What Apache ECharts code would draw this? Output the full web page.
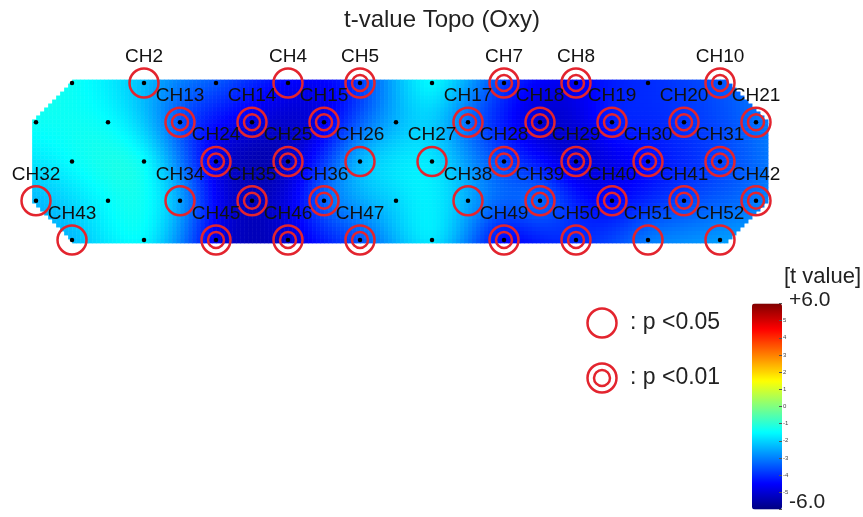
<!DOCTYPE html>
<html><head><meta charset="utf-8">
<script src="https://cdn.jsdelivr.net/npm/echarts@6/dist/echarts.min.js"></script>
<style>html,body{margin:0;padding:0;background:#fff}#c{width:863px;height:517px}</style>
</head><body><div id="c"></div>
<script>
// ---------------- data ----------------
const chartTitle = 't-value Topo (Oxy)';
const row1T = [-1.4, -2.3, -3.5, -4.5, -3.8, -1.6, -3.8, -4.6, -4.0, -3.5];               // CH1-CH10
const row2T = [-1.4, -1.5, -3.5, -4.8, -4.7, -2.4, -3.2, -5.0, -4.2, -3.9, -3.2];         // CH11-CH21
const row3T = [-1.5, -1.5, -4.8, -5.2, -2.4, -1.8, -3.7, -5.0, -4.4, -3.7];               // CH22-CH31
const row4T = [-2.3, -1.5, -2.6, -5.3, -3.4, -2.0, -2.5, -3.3, -4.5, -3.7, -3.1];         // CH32-CH42
const row5T = [-2.3, -1.6, -4.7, -5.0, -3.5, -1.8, -4.4, -4.0, -3.1, -2.7];               // CH43-CH52
const sigP05 = [2, 4, 26, 27, 32, 34, 38, 43, 51, 52];
const sigP01 = [5, 7, 8, 10, 13, 14, 15, 17, 18, 19, 20, 21, 24, 25, 28, 29, 30, 31, 35, 36, 39, 40, 41, 42, 45, 46, 47, 49, 50];
const colorbarTicks = [-5, -4, -3, -2, -1, 0, 1, 2, 3, 4, 5];
const colorbarEnds = ['+6.0', '-6.0'];
const colorbarTitle = '[t value]';
const legendLabels = [': p <0.05', ': p <0.01'];
const jet = ['#000080', '#0000ff', '#0080ff', '#00ffff', '#80ff80', '#ffff00', '#ff8000', '#ff0000', '#800000'];

// ---------------- probe geometry ----------------
const rows = [row1T, row2T, row3T, row4T, row5T];
const channels = [];
let chNo = 1;
rows.forEach((arr, r) => {
  const start = (r % 2 === 0) ? 2 : 1;
  arr.forEach((t, k) => channels.push({ ch: chNo++, col: start + 2 * k, row: r, t: t }));
});
const PX = 36, PY = 39.25, ROW0 = 83;
const ASP = PY / PX; // row spacing relative to column unit
// biharmonic spline surface through the channel values (topographic map)
function green(r) { return r < 1e-9 ? 0 : r * r * (Math.log(r) - 1); }
function dist(ax, ay, bx, by) { const dx = ax - bx, dy = (ay - by) * ASP; return Math.sqrt(dx * dx + dy * dy); }
const N = channels.length;
const A = channels.map(a => channels.map(b => green(dist(a.col, a.row, b.col, b.row))));
const rhs = channels.map(c => c.t);
(function solve() {
  for (let i = 0; i < N; i++) {
    let p = i;
    for (let k = i + 1; k < N; k++) if (Math.abs(A[k][i]) > Math.abs(A[p][i])) p = k;
    [A[i], A[p]] = [A[p], A[i]]; [rhs[i], rhs[p]] = [rhs[p], rhs[i]];
    for (let k = i + 1; k < N; k++) {
      const f = A[k][i] / A[i][i];
      for (let j = i; j < N; j++) A[k][j] -= f * A[i][j];
      rhs[k] -= f * rhs[i];
    }
  }
  for (let i = N - 1; i >= 0; i--) {
    let s = rhs[i];
    for (let j = i + 1; j < N; j++) s -= A[i][j] * rhs[j];
    rhs[i] = s / A[i][i];
  }
})();
const weights = rhs;
function surface(x, y) {
  let s = 0;
  channels.forEach((c, i) => { s += weights[i] * green(dist(x, y, c.col, c.row)); });
  return s;
}
// outline of the measured area
const hull = [[2.0, -0.06], [20.2, -0.06], [21.3, 1.0], [21.3, 3.0], [20.2, 4.06], [2.0, 4.06], [0.9, 3.0], [0.9, 1.0]];
function inside(p) {
  for (let i = 0; i < hull.length; i++) {
    const a = hull[i], b = hull[(i + 1) % hull.length];
    if ((b[0] - a[0]) * (p[1] - a[1]) - (b[1] - a[1]) * (p[0] - a[0]) < 0) return false;
  }
  return true;
}

const xMin = 0.9, xMax = 21.45, yMin = -0.08, yMax = 4.08;
const gridBox = { left: xMin * PX, top: ROW0 + yMin * PY, width: (xMax - xMin) * PX, height: (yMax - yMin) * PY };
const NX = 185, NY = 41;
const cells = [];
for (let i = 0; i < NX; i++) {
  for (let j = 0; j < NY; j++) {
    const p = [xMin + (i + 0.5) * (xMax - xMin) / NX, yMin + (j + 0.5) * (yMax - yMin) / NY];
    if (inside(p)) cells.push([i, j, Math.max(-6, Math.min(6, surface(p[0], p[1])))]);
  }
}
const xCats = Array.from({ length: NX }, (_, i) => i);
const yCats = Array.from({ length: NY }, (_, j) => j);

const allSig = sigP05.concat(sigP01).sort((a, b) => a - b);
const ringColor = '#e3242e';
const FF = 'Liberation Sans, Arial, sans-serif';
const byCh = n => channels[n - 1];

const chart = echarts.init(document.getElementById('c'));
chart.setOption({
  animation: false,
  backgroundColor: '#fff',
  title: { text: chartTitle, left: 442, top: 8, padding: 0, textAlign: 'center',
    textStyle: { fontFamily: FF, fontSize: 24, fontWeight: 'normal', color: '#222' } },
  grid: [
    Object.assign({}, gridBox),
    Object.assign({}, gridBox),
    { left: 752, top: 303.5, width: 30, height: 206 }
  ],
  xAxis: [
    { type: 'category', data: xCats, gridIndex: 0, show: false, boundaryGap: true },
    { type: 'value', gridIndex: 1, min: xMin, max: xMax, show: false },
    { type: 'value', gridIndex: 2, min: 0, max: 1, show: false }
  ],
  yAxis: [
    { type: 'category', data: yCats, gridIndex: 0, show: false, inverse: true, boundaryGap: true },
    { type: 'value', gridIndex: 1, min: yMin, max: yMax, show: false, inverse: true },
    { type: 'value', gridIndex: 2, min: -6, max: 6, interval: 1, position: 'right', z: 10,
      axisLine: { show: false, onZero: false }, splitLine: { show: false },
      axisTick: { show: true, inside: true, length: 3, lineStyle: { color: '#555', width: 1 } },
      axisLabel: { fontSize: 6, color: '#444', margin: 1, fontFamily: FF,
        formatter: v => colorbarTicks.indexOf(v) >= 0 ? String(v) : '' } }
  ],
  visualMap: {
    type: 'continuous', min: -6, max: 6, seriesIndex: 0, orient: 'vertical',
    left: 752, top: 303.5, itemWidth: 30, itemHeight: 206, padding: 0,
    calculable: false, hoverLink: false, text: null,
    inRange: { color: jet }
  },
  series: [
    { type: 'heatmap', xAxisIndex: 0, yAxisIndex: 0, data: cells, progressive: 0,
      emphasis: { disabled: true }, silent: true },
    { type: 'scatter', xAxisIndex: 1, yAxisIndex: 1, symbol: 'circle', symbolSize: 29, silent: true,
      data: allSig.map(n => ({ value: [byCh(n).col, byCh(n).row], name: 'CH' + n })),
      itemStyle: { color: 'rgba(0,0,0,0)', borderColor: ringColor, borderWidth: 2.5, opacity: 1 },
      label: { show: true, position: 'top', distance: 1.5, formatter: p => p.name,
        fontFamily: FF, fontSize: 19, lineHeight: 18, color: '#111' }, z: 3 },
    { type: 'scatter', xAxisIndex: 1, yAxisIndex: 1, symbol: 'circle', symbolSize: 16, silent: true,
      data: sigP01.map(n => [byCh(n).col, byCh(n).row]),
      itemStyle: { color: 'rgba(0,0,0,0)', borderColor: ringColor, borderWidth: 2.5, opacity: 1 }, z: 3 },
    { type: 'scatter', xAxisIndex: 1, yAxisIndex: 1, symbol: 'circle', symbolSize: 4.5, silent: true,
      data: channels.map(c => [c.col, c.row]),
      itemStyle: { color: '#000', opacity: 1 }, z: 4 }
  ],
  graphic: [
    { type: 'text', x: 784, y: 277, style: { text: colorbarTitle, fontSize: 22, fontFamily: FF, fill: '#222', verticalAlign: 'middle' } },
    { type: 'text', x: 789, y: 300, style: { text: colorbarEnds[0], fontSize: 21, fontFamily: FF, fill: '#222', verticalAlign: 'middle' } },
    { type: 'text', x: 789, y: 502, style: { text: colorbarEnds[1], fontSize: 21, fontFamily: FF, fill: '#222', verticalAlign: 'middle' } },
    { type: 'circle', shape: { cx: 602, cy: 323, r: 14.5 }, style: { fill: 'none', stroke: ringColor, lineWidth: 2.5 } },
    { type: 'circle', shape: { cx: 602, cy: 378, r: 14.5 }, style: { fill: 'none', stroke: ringColor, lineWidth: 2.5 } },
    { type: 'circle', shape: { cx: 602, cy: 378, r: 8 }, style: { fill: 'none', stroke: ringColor, lineWidth: 2.5 } },
    { type: 'text', x: 630, y: 323, style: { text: legendLabels[0], fontSize: 23, fontFamily: FF, fill: '#222', verticalAlign: 'middle' } },
    { type: 'text', x: 630, y: 378, style: { text: legendLabels[1], fontSize: 23, fontFamily: FF, fill: '#222', verticalAlign: 'middle' } }
  ]
});
</script></body></html>
